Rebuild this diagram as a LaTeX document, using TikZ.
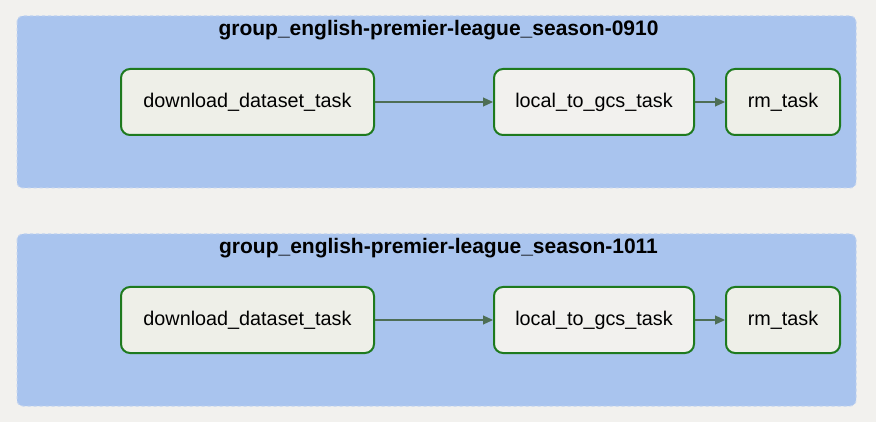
\documentclass[tikz,border=0pt]{standalone}
\usepackage{fontspec}
\setmainfont{Liberation Sans}
\usetikzlibrary{arrows.meta}
\definecolor{bg}{HTML}{F2F1EE}
\definecolor{grp}{HTML}{A9C4EE}
\definecolor{grpedge}{HTML}{C4D4EE}
\definecolor{tgreen}{HTML}{1E7A1E}
\definecolor{fillA}{HTML}{EEEFE8}
\definecolor{fillB}{HTML}{F2F1EE}
\definecolor{arr}{HTML}{4E6E55}
\tikzset{
  x=1pt,y=-1pt,
  group/.style={fill=grp, draw=grpedge, dashed, line width=1pt, rounded corners=6pt},
  gtitle/.style={font=\fontsize{21}{24}\selectfont\bfseries, text=black},
  task/.style={draw=tgreen, line width=2pt, rounded corners=9pt, minimum height=66pt, font=\fontsize{19.8}{23}\selectfont, text=black, inner sep=0pt},
  flow/.style={draw=arr, line width=1.2pt, -{Triangle[length=10pt,width=9pt]}}
}
\begin{document}
\begin{tikzpicture}
\fill[bg] (0,0) rectangle (876,422);
\useasboundingbox (0,0) rectangle (876,422);
% group 1
\path[group] (17,16) rectangle (856,188);
\node[gtitle] (t1) at (438.5,30) {group\_english-premier-league\_season-0910};
\node[task, fill=fillA, minimum width=253pt] (d1) at (247.5,102) {download\_dataset\_task};
\node[task, fill=fillB, minimum width=200pt] (l1) at (594,102) {local\_to\_gcs\_task};
\node[task, fill=fillA, minimum width=114pt] (r1) at (783,102) {rm\_task};
\draw[flow] (d1) -- (l1);
\draw[flow] (l1) -- (r1);
% group 2
\path[group] (17,234) rectangle (856,406);
\node[gtitle] (t2) at (438.5,248) {group\_english-premier-league\_season-1011};
\node[task, fill=fillA, minimum width=253pt] (d2) at (247.5,320) {download\_dataset\_task};
\node[task, fill=fillB, minimum width=200pt] (l2) at (594,320) {local\_to\_gcs\_task};
\node[task, fill=fillA, minimum width=114pt] (r2) at (783,320) {rm\_task};
\draw[flow] (d2) -- (l2);
\draw[flow] (l2) -- (r2);
\end{tikzpicture}
\end{document}
